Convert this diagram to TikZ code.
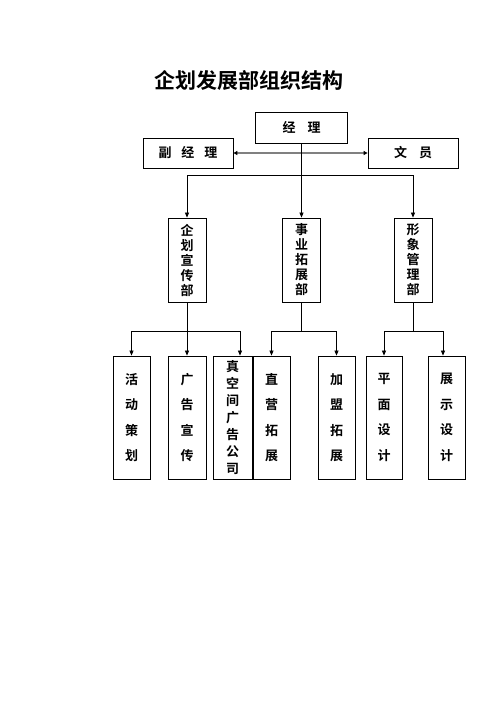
\documentclass[tikz,border=0pt]{standalone}
\usepackage{fontspec}
\setmainfont{Noto Sans CJK SC}[BoldFont={Noto Sans CJK SC Bold}]
\usetikzlibrary{arrows.meta}
\begin{document}
\begin{tikzpicture}[x=1pt,y=-1pt,
  box/.style={draw, line width=0.8pt, inner sep=0pt, align=center, font=\bfseries\fontsize{13}{15}\selectfont},
  lvtwo/.style={box, minimum width=38pt, minimum height=84pt},
  lvthree/.style={box, minimum width=37pt, minimum height=123pt, font=\bfseries\fontsize{13}{25.5}\selectfont},
  arr/.style={-{Triangle[length=5pt,width=4pt]}, line width=0.7pt},
  ln/.style={line width=0.7pt},
  dbl/.style={{Triangle[length=4pt,width=4pt,color=black]}-{Triangle[length=4pt,width=4pt,color=black]}, line width=1.8pt, draw=black!50}]
\useasboundingbox (0,0) rectangle (496,702);
\node[font=\bfseries\fontsize{21}{24}\selectfont] (title) at (249,80) {企划发展部组织结构};
\node[box, minimum width=92pt, minimum height=31pt] (jl) at (301.5,127.5) {经\hspace{12pt}理};
\node[box, minimum width=90pt, minimum height=30pt] (fjl) at (188,153) {副\hspace{10pt}经\hspace{10pt}理};
\node[box, minimum width=90pt, minimum height=30pt] (wy) at (413,153) {文\hspace{12pt}员};
\draw[dbl] (fjl.east) -- (wy.west);
% level 2
\node[lvtwo] (qh) at (187,260) {企\\划\\宣\\传\\部};
\node[lvtwo] (sy) at (301.5,260) {事\\业\\拓\\展\\部};
\node[lvtwo] (xx) at (413,260) {形\\象\\管\\理\\部};
\coordinate (busL) at (qh.north |- 0,175);
\coordinate (busR) at (xx.north |- 0,175);
\draw[ln] (busL) -- (busR);
\draw[arr] (jl.south) -- (sy.north);
\draw[arr] (busL) -- (qh.north);
\draw[arr] (busR) -- (xx.north);
% level 3
\node[lvthree] (a) at (131.5,417.5) {活\\动\\策\\划};
\node[lvthree, minimum width=38pt] (b) at (187,417.5) {广\\告\\宣\\传};
\node[lvthree, minimum width=39pt, font=\bfseries\fontsize{13}{17}\selectfont] (c) at (232.5,417.5) {真\\空\\间\\广\\告\\公\\司};
\node[lvthree] (d) at (271.5,417.5) {直\\营\\拓\\展};
\node[lvthree] (e) at (336.5,417.5) {加\\盟\\拓\\展};
\node[lvthree, minimum width=36pt] (f) at (384,417.5) {平\\面\\设\\计};
\node[lvthree] (g) at (446.5,417.5) {展\\示\\设\\计};
% left group
\coordinate (q1) at (qh.south |- 0,331);
\coordinate (q0) at (a.north |- 0,331);
\coordinate (q2) at ([xshift=7.5pt]c.north |- 0,331);
\draw[ln] (qh.south) -- (q1);
\draw[ln] (q0) -- (q2);
\draw[arr] (q0) -- (a.north);
\draw[arr] (q1) -- (b.north);
\draw[arr] (q2) -- ([xshift=7.5pt]c.north);
% middle group
\coordinate (s1) at (sy.south |- 0,331);
\coordinate (s0) at (d.north |- 0,331);
\coordinate (s2) at (e.north |- 0,331);
\draw[ln] (sy.south) -- (s1);
\draw[ln] (s0) -- (s2);
\draw[arr] (s0) -- (d.north);
\draw[arr] (s2) -- (e.north);
% right group
\coordinate (x1) at (xx.south |- 0,331);
\coordinate (x0) at (f.north |- 0,331);
\coordinate (x2) at ([xshift=-3.5pt]g.north |- 0,331);
\draw[ln] (xx.south) -- (x1);
\draw[ln] (x0) -- (x2);
\draw[arr] (x0) -- (f.north);
\draw[arr] (x2) -- ([xshift=-3.5pt]g.north);
\end{tikzpicture}
\end{document}
